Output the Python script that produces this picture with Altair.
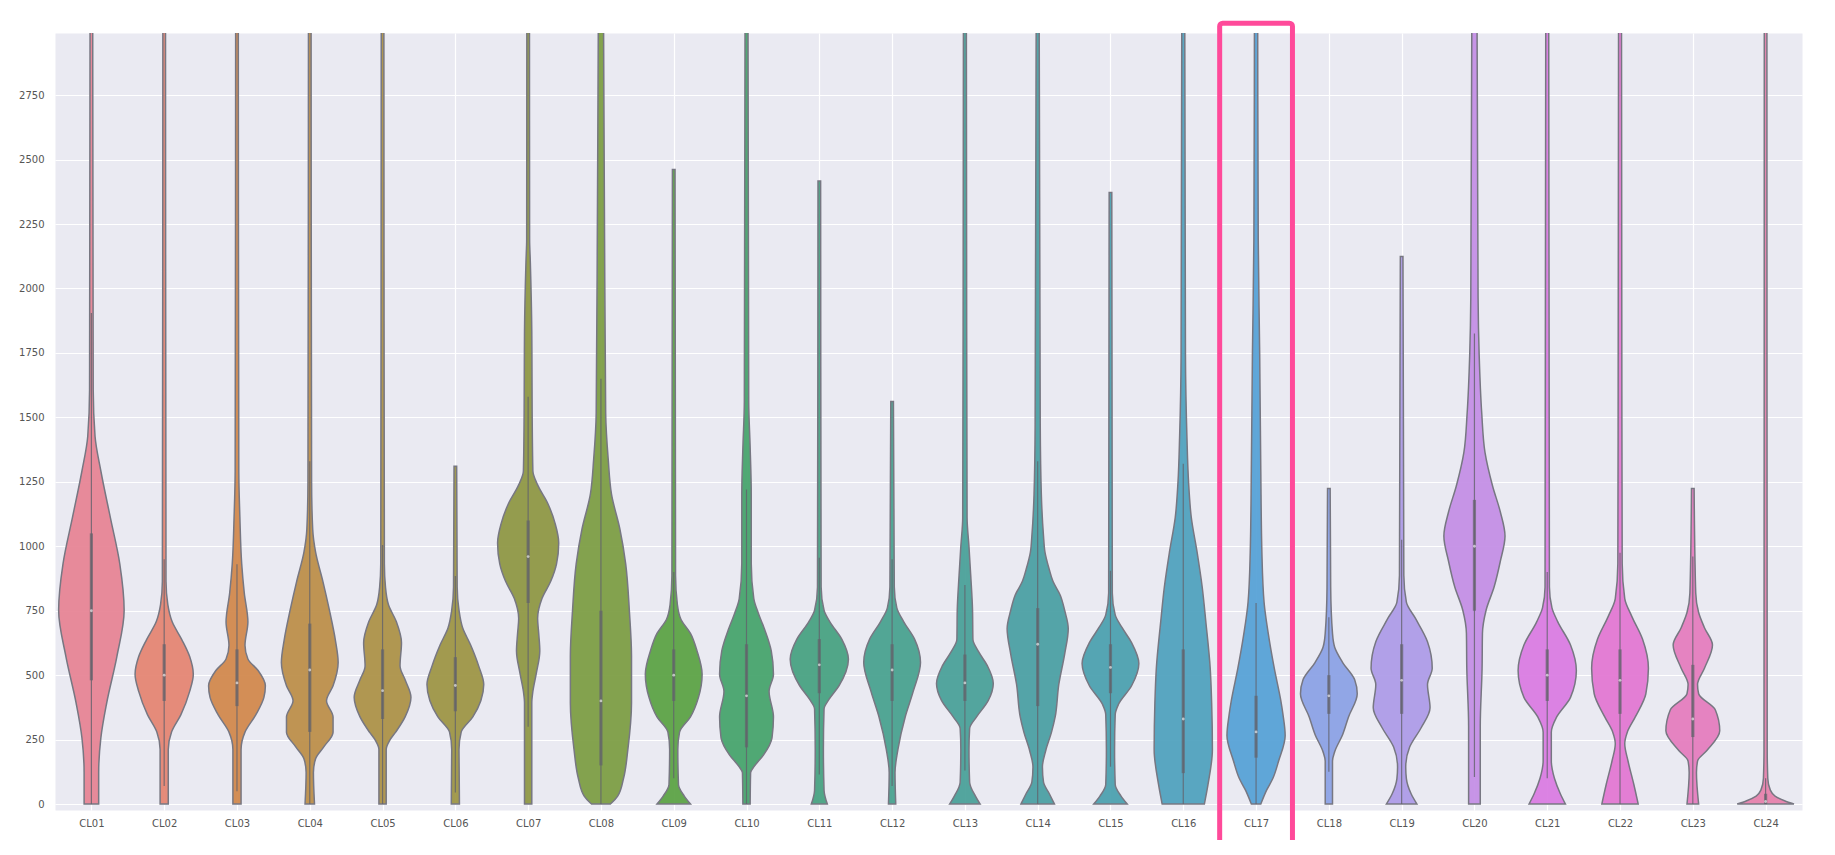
import math
import colorsys
import numpy as np
import pandas as pd
import altair as alt

# ---------------- data ----------------
categories = ["CL%02d" % (i + 1) for i in range(24)]

# density profile of each violin: values (y) and half-widths (in category units)
profile_values = [
    [0, 122, 257, 392, 572, 752, 932, 1112, 1292, 1427, 1607, 3100],
    [0, 212, 279, 347, 437, 504, 572, 639, 707, 774, 864, 3100],
    [0, 212, 279, 347, 414, 459, 518, 563, 616, 706, 819, 931, 1111, 1291, 3100],
    [0, 122, 176, 221, 279, 338, 401, 459, 549, 639, 752, 864, 977, 1067, 1247, 3100],
    [0, 212, 248, 279, 338, 414, 482, 536, 626, 707, 774, 842, 931, 3100],
    [0, 212, 279, 338, 401, 464, 536, 617, 684, 752, 842, 1310],
    [0, 392, 437, 504, 594, 662, 720, 797, 864, 932, 1013, 1089, 1166, 1238, 1292, 1517, 1832, 2102, 2192, 3100],
    [0, 31, 99, 212, 392, 572, 752, 932, 1067, 1202, 1337, 1517, 2192, 3100],
    [0, 31, 76, 212, 279, 338, 414, 504, 594, 662, 716, 774, 887, 2462],
    [0, 122, 144, 189, 257, 338, 437, 504, 594, 684, 742, 797, 932, 1202, 1382, 1562, 3100],
    [0, 54, 212, 369, 405, 459, 562, 639, 707, 752, 842, 2417],
    [0, 122, 212, 338, 437, 549, 639, 707, 761, 842, 1562],
    [0, 31, 85, 212, 293, 338, 401, 468, 536, 590, 639, 752, 887, 999, 1112, 3100],
    [0, 40, 85, 144, 207, 279, 338, 464, 581, 680, 752, 810, 864, 909, 977, 1040, 1202, 1472, 3100],
    [0, 31, 76, 212, 347, 387, 459, 545, 626, 684, 734, 819, 2372],
    [0, 76, 212, 392, 527, 707, 842, 977, 1112, 1247, 1427, 1742, 3100],
    [0, 54, 99, 167, 266, 347, 401, 527, 657, 783, 977, 1292, 1742, 2192, 3100],
    [0, 167, 203, 270, 338, 428, 482, 549, 608, 662, 842, 1224],
    [0, 40, 99, 144, 221, 297, 374, 464, 527, 630, 720, 783, 887, 2124],
    [0, 302, 527, 662, 752, 842, 941, 1040, 1134, 1233, 1364, 1517, 1742, 1967, 3100],
    [0, 40, 99, 167, 279, 338, 414, 518, 617, 707, 761, 842, 3100],
    [0, 76, 167, 234, 279, 338, 428, 527, 639, 729, 797, 932, 3100],
    [0, 122, 167, 207, 284, 365, 428, 464, 527, 617, 684, 743, 819, 1224],
    [0, 13, 31, 54, 99, 212, 3100],
]
profile_widths = [
    [.10, .10, .13, .21, .35, .45, .39, .26, .13, .05, .025, .018],
    [.056, .056, .10, .23, .35, .40, .35, .24, .11, .05, .025, .018],
    [.056, .056, .11, .26, .37, .39, .29, .15, .11, .15, .10, .065, .04, .025, .018],
    [.065, .05, .08, .19, .32, .32, .23, .32, .39, .35, .27, .18, .08, .04, .025, .018],
    [.05, .05, .10, .18, .31, .39, .31, .24, .26, .19, .08, .04, .025, .018],
    [.056, .05, .08, .24, .35, .39, .32, .21, .10, .05, .025, .018],
    [.05, .05, .065, .11, .16, .145, .13, .19, .31, .39, .42, .37, .27, .13, .065, .055, .05, .03, .02, .018],
    [.13, .23, .31, .37, .42, .42, .39, .34, .26, .145, .10, .065, .05, .035],
    [.23, .145, .065, .056, .08, .23, .34, .39, .32, .23, .10, .05, .025, .018],
    [.05, .056, .10, .23, .35, .37, .31, .37, .34, .24, .16, .10, .065, .065, .05, .03, .02],
    [.11, .065, .056, .065, .13, .27, .40, .31, .145, .065, .025, .018],
    [.05, .04, .08, .18, .29, .39, .31, .16, .065, .03, .018],
    [.21, .145, .065, .056, .065, .16, .32, .39, .31, .19, .11, .105, .08, .056, .03, .02],
    [.23, .16, .08, .065, .11, .19, .24, .29, .37, .42, .37, .31, .21, .16, .10, .08, .05, .035, .02],
    [.23, .145, .065, .056, .065, .11, .29, .39, .29, .16, .065, .025, .018],
    [.29, .34, .40, .39, .37, .31, .26, .19, .11, .073, .05, .03, .02],
    [.065, .145, .23, .31, .40, .37, .34, .25, .17, .11, .08, .065, .05, .03, .022],
    [.05, .05, .08, .19, .27, .39, .355, .19, .08, .05, .025, .018],
    [.21, .13, .065, .056, .11, .27, .39, .355, .42, .355, .19, .065, .03, .018],
    [.08, .08, .105, .11, .16, .27, .355, .42, .355, .25, .145, .10, .065, .05, .035],
    [.25, .18, .10, .056, .056, .13, .32, .40, .32, .145, .065, .03, .02],
    [.25, .19, .11, .065, .10, .21, .355, .39, .31, .16, .065, .03, .02],
    [.08, .05, .065, .19, .37, .31, .08, .065, .16, .27, .16, .08, .04, .018],
    [.39, .26, .13, .065, .03, .022, .018],
]

# inner box statistics
q1_values = [480, 400, 380, 280, 330, 360, 780, 150, 400, 220, 430, 400,
             400, 380, 430, 120, 180, 350, 350, 750, 400, 350, 260, 0]
median_values = [750, 500, 470, 520, 440, 460, 960, 400, 500, 420, 540, 520,
                 470, 620, 530, 330, 280, 420, 480, 1000, 500, 480, 330, 10]
q3_values = [1050, 620, 600, 700, 600, 570, 1100, 750, 600, 620, 640, 620,
             580, 760, 620, 600, 420, 500, 620, 1180, 600, 600, 540, 40]

y_ticks = list(range(0, 2751, 250))
highlight_category = 16


# ---------------- seaborn-like husl palette ----------------
M = [[3.2406, -1.5372, -0.4986], [-0.9689, 1.8758, 0.0415], [0.0557, -0.2040, 1.0570]]
refU, refV, lab_e, lab_k = 0.19784, 0.46834, 0.008856, 903.3


def max_chroma(L, H):
    hrad = math.radians(H)
    sinH, cosH = math.sin(hrad), math.cos(hrad)
    sub1 = (L + 16) ** 3 / 1560896.0
    sub2 = sub1 if sub1 > lab_e else L / lab_k
    result = float("inf")
    for m1, m2, m3 in M:
        top = (0.99915 * m1 + 1.05122 * m2 + 1.14460 * m3) * sub2
        rbottom = 0.86330 * m3 - 0.17266 * m2
        lbottom = 0.12949 * m3 - 0.38848 * m1
        bottom = (rbottom * sinH + lbottom * cosH) * sub2
        for t in (0.0, 1.0):
            C = L * (top - 1.05122 * t) / (bottom + 0.17266 * sinH * t)
            if 0.0 < C < result:
                result = C
    return result


def husl_to_rgb(h, s, l):
    C = max_chroma(l, h) / 100.0 * s
    hrad = math.radians(h)
    U, V = math.cos(hrad) * C, math.sin(hrad) * C
    t = (l + 16) / 116.0
    varY = t ** 3 if t ** 3 > lab_e else (116 * t - 16) / lab_k
    varU = U / (13.0 * l) + refU
    varV = V / (13.0 * l) + refV
    Y = varY
    X = 0.0 - (9.0 * Y * varU) / ((varU - 4.0) * varV - varU * varV)
    Z = (9.0 * Y - (15.0 * varV * Y) - (varV * X)) / (3.0 * varV)
    out = []
    for row in M:
        c = row[0] * X + row[1] * Y + row[2] * Z
        c = 12.92 * c if c <= 0.0031308 else 1.055 * c ** (1 / 2.4) - 0.055
        out.append(min(max(c, 0.0), 1.0))
    return out


def palette(n, h=0.01, s=0.9, l=0.65, sat=0.75):
    hues = (np.linspace(0, 1, n + 1)[:-1] + h) % 1 * 359
    cols = []
    for hh in hues:
        r, g, b = husl_to_rgb(hh, s * 99, l * 99)
        hh2, ll, ss = colorsys.rgb_to_hls(r, g, b)
        r, g, b = colorsys.hls_to_rgb(hh2, ll, ss * sat)
        cols.append("#%02x%02x%02x" % (round(r * 255), round(g * 255), round(b * 255)))
    return cols


colors = palette(len(categories))

# ---------------- tables ----------------
rows = []
for i, cat in enumerate(categories):
    for v, w in zip(profile_values[i], profile_widths[i]):
        rows.append({"cat": cat, "idx": i, "val": v, "left": i - w, "right": i + w})
violins = pd.DataFrame(rows)

box = pd.DataFrame({
    "cat": categories,
    "idx": list(range(len(categories))),
    "q1": q1_values,
    "med": median_values,
    "q3": q3_values,
})
iqr = box["q3"] - box["q1"]
box["lo"] = np.maximum(box["q1"] - 1.5 * iqr, 0)
box["hi"] = box["q3"] + 1.5 * iqr

hl = pd.DataFrame({
    "x1": [highlight_category - 0.5], "x2": [highlight_category + 0.5],
    "y1": [-186], "y2": [3029],
})

label_expr = "[" + ",".join("'%s'" % c for c in categories) + "][datum.value]"

xscale = alt.Scale(domain=[-0.5, len(categories) - 0.5], nice=False, zero=False)
yscale = alt.Scale(domain=[-23, 2991], nice=False, zero=False)

x_axis = alt.Axis(values=list(range(len(categories))), labelExpr=label_expr, title=None,
                  grid=True, gridColor="white", gridWidth=1.2, ticks=False, domain=False,
                  labelFontSize=10, labelColor="#555555", labelPadding=8, labelAngle=0,
                  labelFont="DejaVu Sans")
y_axis = alt.Axis(values=y_ticks, format="d", title=None, grid=True, gridColor="white",
                  gridWidth=1.2, ticks=False, domain=False, labelFontSize=10,
                  labelColor="#555555", labelPadding=11, labelFont="DejaVu Sans")

area = alt.Chart(violins).mark_area(
    orient="horizontal", interpolate="monotone", stroke="#777782", strokeWidth=1.5,
    clip=True, fillOpacity=0.92
).encode(
    y=alt.Y("val:Q", scale=yscale, axis=y_axis),
    x=alt.X("left:Q", scale=xscale, axis=x_axis),
    x2="right:Q",
    color=alt.Color("cat:N", scale=alt.Scale(domain=categories, range=colors), legend=None),
)

whisk = alt.Chart(box).mark_rule(color="#62626b", strokeWidth=1.2, opacity=0.8).encode(
    x=alt.X("idx:Q", scale=xscale), y=alt.Y("lo:Q", scale=yscale), y2="hi:Q"
)
iqr_rule = alt.Chart(box).mark_rule(color="#62626b", strokeWidth=3.2, opacity=0.7).encode(
    x=alt.X("idx:Q", scale=xscale), y=alt.Y("q1:Q", scale=yscale), y2="q3:Q"
)
med = alt.Chart(box).mark_point(filled=True, color="white", size=8, opacity=0.6).encode(
    x=alt.X("idx:Q", scale=xscale), y=alt.Y("med:Q", scale=yscale)
)

highlight = alt.Chart(hl).mark_rect(
    fill="white", fillOpacity=0, stroke="#ff4a9a", strokeWidth=5, cornerRadius=3, clip=False
).encode(
    x=alt.X("x1:Q", scale=xscale), x2="x2:Q",
    y=alt.Y("y1:Q", scale=yscale), y2="y2:Q",
)

chart = alt.layer(area, whisk, iqr_rule, med, highlight).properties(
    width=1747, height=777,
    autosize=alt.AutoSizeParams(type="none"),
    padding={"left": 47, "top": 25, "right": 25, "bottom": 30},
    background="white",
).configure_view(fill="#eaeaf2", stroke="transparent")

chart.save("out.html", embed_options={"renderer": "svg", "actions": False})
